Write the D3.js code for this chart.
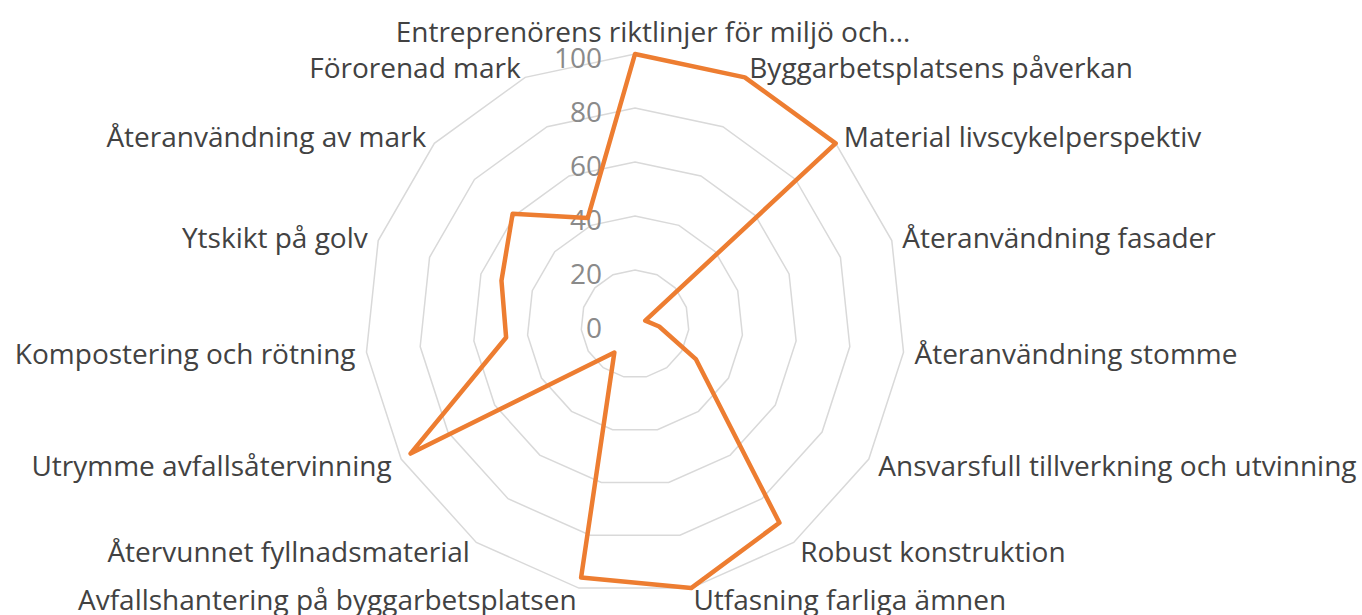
<!DOCTYPE html>
<html lang="sv">
<head>
<meta charset="UTF-8">
<title>Radar</title>
<script src="https://d3js.org/d3.v7.min.js"></script>
<style>
    body { margin: 0; background: #fff; }
    .cat { font-family: "Open Sans", sans-serif; font-size: 28px; fill: #424242; }
    .tick { font-family: "Open Sans", sans-serif; font-size: 28px; fill: #8a8a8a; }
    .ring { fill: none; stroke: #d9d9d9; stroke-width: 1.5; }
</style>
</head>
<body>
<script>
    const categories = [
        "Entreprenörens riktlinjer för miljö och…",
        "Byggarbetsplatsens påverkan",
        "Material livscykelperspektiv",
        "Återanvändning fasader",
        "Återanvändning stomme",
        "Ansvarsfull tillverkning och utvinning",
        "Robust konstruktion",
        "Utfasning farliga ämnen",
        "Avfallshantering på byggarbetsplatsen",
        "Återvunnet fyllnadsmaterial",
        "Utrymme avfallsåtervinning",
        "Kompostering och rötning",
        "Ytskikt på golv",
        "Återanvändning av mark",
        "Förorenad mark"
    ];
    const values = [100, 100, 100, 4, 9, 26, 91, 100, 96, 13, 96, 48, 52, 61, 43];
    const ticks = [0, 20, 40, 60, 80, 100];

    const width = 1362, height = 615;
    const cx = 635, cy = 324, R = 270;

    const svg = d3.select("body").append("svg")
        .attr("width", width).attr("height", height);

    const g = svg.append("g").attr("transform", `translate(${cx},${cy})`);

    const r = d3.scaleLinear().domain([0, 100]).range([0, R]);
    const angle = d3.scaleLinear().domain([0, categories.length]).range([0, 2 * Math.PI]);

    const pt = (i, v) => [Math.sin(angle(i)) * r(v), -Math.cos(angle(i)) * r(v)];

    // grid rings (no spokes)
    g.selectAll(".ring")
        .data(ticks.filter(t => t > 0))
        .enter().append("path")
        .attr("class", "ring")
        .attr("d", t => d3.line()(categories.map((c, i) => pt(i, t))) + "Z");

    // value axis labels
    g.selectAll(".tick")
        .data(ticks)
        .enter().append("text")
        .attr("class", "tick")
        .attr("x", -33)
        .attr("y", t => -r(t) + 3)
        .attr("text-anchor", "end")
        .attr("dominant-baseline", "central")
        .text(t => t);

    // series
    g.append("path")
        .datum(values)
        .attr("fill", "none")
        .attr("stroke", "#ED7D31")
        .attr("stroke-width", 4.5)
        .attr("stroke-linejoin", "round")
        .attr("d", d => d3.line()(d.map((v, i) => pt(i, v))) + "Z");

    // category labels
    g.selectAll(".cat")
        .data(categories)
        .enter().append("text")
        .attr("class", "cat")
        .attr("x", (c, i) => pt(i, 100)[0] + Math.sin(angle(i)) * 11)
        .attr("y", (c, i) => {
            const a = angle(i);
            let y = pt(i, 100)[1] - Math.cos(a) * 11;
            if (Math.abs(Math.sin(a)) < 0.1) y -= Math.cos(a) * 12;
            return y;
        })
        .attr("dx", (c, i) => i === 0 ? 18 : 0)
        .attr("text-anchor", (c, i) => {
            const s = Math.sin(angle(i));
            return Math.abs(s) < 0.1 ? "middle" : (s > 0 ? "start" : "end");
        })
        .attr("dominant-baseline", "central")
        .text(c => c);
</script>
</body>
</html>
